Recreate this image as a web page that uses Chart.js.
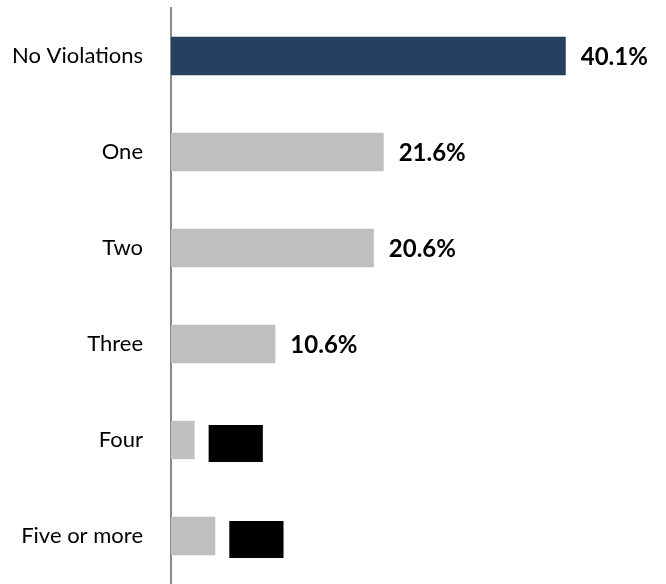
<!DOCTYPE html>
<html>
<head>
<meta charset="utf-8">
<script src="https://cdn.jsdelivr.net/npm/chart.js@4"></script>
<style>
  html, body { margin: 0; padding: 0; background: #fff; }
  #wrap { width: 666px; height: 584px; }
</style>
</head>
<body>
<div id="wrap"><canvas id="myChart" width="666" height="584"></canvas></div>
<script>
// Chart data
var categories = ["No Violations", "One", "Two", "Three", "Four", "Five or more"];
var values = [40.1, 21.6, 20.6, 10.6, 2.4, 4.5];
var redacted = [false, false, false, false, true, true];
var barColors = ["#27405f", "#bfbfbf", "#bfbfbf", "#bfbfbf", "#bfbfbf", "#bfbfbf"];

var labelFont = "Lato, 'Open Sans', sans-serif";

// value labels to the right of each bar, the hidden ones are blacked out
var valueLabels = {
  id: "valueLabels",
  afterDatasetsDraw(chart) {
    let ctx = chart.ctx;
    let bars = chart.getDatasetMeta(0).data;
    ctx.save();
    ctx.font = "bold 24px " + labelFont;
    ctx.textBaseline = "middle";
    ctx.textAlign = "left";
    bars.forEach((bar, i) => {
      let text = values[i].toFixed(1) + "%";
      let x = bar.x + 15;
      let y = bar.y;
      if (redacted[i]) {
        let w = ctx.measureText(text).width;
        ctx.fillStyle = "#000";
        ctx.fillRect(x - 1, y - 15, w + 1, 37);
      }
      ctx.fillStyle = "#000";
      ctx.fillText(text, x, y + 1);
    });
    ctx.restore();
  }
};

new Chart("myChart", {
  type: "bar",
  data: {
    labels: categories,
    datasets: [{
      data: values,
      backgroundColor: barColors,
      barPercentage: 0.5,
      categoryPercentage: 0.8
    }]
  },
  options: {
    indexAxis: "y",
    responsive: false,
    animation: false,
    layout: { padding: { top: 8, right: 52, bottom: 0, left: 0 } },
    plugins: {
      legend: { display: false },
      tooltip: { enabled: false }
    },
    scales: {
      x: {
        display: false,
        min: 0,
        max: 45
      },
      y: {
        afterFit: (scale) => {
          scale.width = 171;
          scale.paddingTop = 0;
          scale.paddingBottom = 0;
        },
        grid: { display: false, drawTicks: false },
        border: { display: true, color: "#898989", width: 2 },
        ticks: {
          padding: 28,
          color: "#000",
          font: { family: labelFont, size: 22 }
        }
      }
    }
  },
  plugins: [valueLabels]
});
</script>
</body>
</html>
